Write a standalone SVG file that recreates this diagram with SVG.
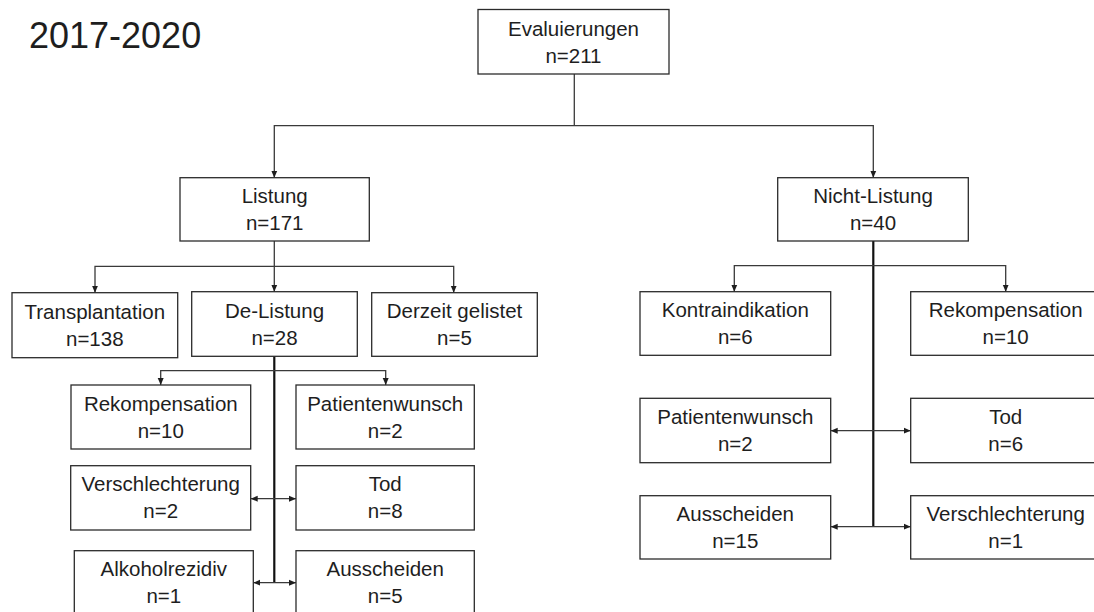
<svg xmlns="http://www.w3.org/2000/svg" width="1094" height="612" viewBox="0 0 1094 612">
  <style>
    .box { fill: #ffffff; stroke: #2b2b2b; stroke-width: 1.3; }
    .lbl { font-family: "Liberation Sans", Arial, sans-serif; font-size: 20.5px; fill: #1e1e1e; text-anchor: middle; }
    .title { font-family: "Liberation Sans", Arial, sans-serif; font-size: 36px; fill: #1e1e1e; }
    .con { fill: none; stroke: #3a3a3a; stroke-width: 1.3; }
    .thick { fill: none; stroke: #111111; stroke-width: 2.2; }
  </style>
  <defs>
    <marker id="arr" markerWidth="8" markerHeight="8" refX="7" refY="4" orient="auto-start-reverse" markerUnits="userSpaceOnUse">
      <path d="M0,1 L7,4 L0,7 Z" fill="#1e1e1e"/>
    </marker>
  </defs>
  <rect width="1094" height="612" fill="#ffffff"/>

  <text class="title" x="29" y="48">2017-2020</text>

  <g id="connectors">
    <!-- Evaluierungen to Listung / Nicht-Listung -->
    <path class="con" d="M574.3,74 V125.7"/>
    <path class="con" d="M274.3,177.7 V125.7 H873.3 V177.7" marker-start="url(#arr)" marker-end="url(#arr)"/>
    <!-- Listung to children -->
    <path class="con" d="M274.3,241 V291.7" marker-end="url(#arr)"/>
    <path class="con" d="M95,292.7 V266.3 H453.7 V292.7" marker-start="url(#arr)" marker-end="url(#arr)"/>
    <!-- De-Listung -->
    <path class="thick" d="M274.3,356.3 V582.7"/>
    <path class="con" d="M160.7,385 V370.7 H385.7 V385" marker-start="url(#arr)" marker-end="url(#arr)"/>
    <path class="con" d="M250.7,498.7 H296" marker-start="url(#arr)" marker-end="url(#arr)"/>
    <path class="con" d="M253.3,582.7 H296" marker-start="url(#arr)" marker-end="url(#arr)"/>
    <!-- Nicht-Listung -->
    <path class="thick" d="M873.3,241 V526.7"/>
    <path class="con" d="M734.3,291.7 V265.7 H1005.7 V291.7" marker-start="url(#arr)" marker-end="url(#arr)"/>
    <path class="con" d="M830.7,430.7 H910.7" marker-start="url(#arr)" marker-end="url(#arr)"/>
    <path class="con" d="M830.7,526.7 H910.7" marker-start="url(#arr)" marker-end="url(#arr)"/>
  </g>

  <g id="evaluierungen">
    <rect class="box" x="478" y="9.5" width="191" height="64.5"/>
    <text class="lbl" x="573.5" y="35.5">Evaluierungen</text>
    <text class="lbl" x="573.5" y="62.5">n=211</text>
  </g>
  <g id="listung">
    <rect class="box" x="180" y="177.7" width="189.3" height="63.3"/>
    <text class="lbl" x="274.7" y="202.8">Listung</text>
    <text class="lbl" x="274.7" y="229.8">n=171</text>
  </g>
  <g id="nicht-listung">
    <rect class="box" x="777.7" y="177.7" width="190.6" height="63.3"/>
    <text class="lbl" x="873" y="202.8">Nicht-Listung</text>
    <text class="lbl" x="873" y="229.8">n=40</text>
  </g>
  <g id="transplantation">
    <rect class="box" x="12" y="292.7" width="165.7" height="65"/>
    <text class="lbl" x="94.8" y="318.5">Transplantation</text>
    <text class="lbl" x="94.8" y="345.7">n=138</text>
  </g>
  <g id="de-listung">
    <rect class="box" x="191.7" y="291.7" width="165.6" height="64.6"/>
    <text class="lbl" x="274.5" y="317.5">De-Listung</text>
    <text class="lbl" x="274.5" y="344.5">n=28</text>
  </g>
  <g id="derzeit-gelistet">
    <rect class="box" x="371.7" y="292.7" width="165.6" height="63.6"/>
    <text class="lbl" x="454.5" y="318">Derzeit gelistet</text>
    <text class="lbl" x="454.5" y="345">n=5</text>
  </g>
  <g id="rekompensation-l">
    <rect class="box" x="71" y="385" width="179.7" height="64"/>
    <text class="lbl" x="160.8" y="410.5">Rekompensation</text>
    <text class="lbl" x="160.8" y="437.5">n=10</text>
  </g>
  <g id="patientenwunsch-l">
    <rect class="box" x="296" y="385" width="178.3" height="64"/>
    <text class="lbl" x="385.2" y="410.5">Patientenwunsch</text>
    <text class="lbl" x="385.2" y="437.5">n=2</text>
  </g>
  <g id="verschlechterung-l">
    <rect class="box" x="70.7" y="465.7" width="180" height="64.3"/>
    <text class="lbl" x="160.7" y="491.3">Verschlechterung</text>
    <text class="lbl" x="160.7" y="518.3">n=2</text>
  </g>
  <g id="tod-l">
    <rect class="box" x="296" y="465.7" width="178.3" height="64.3"/>
    <text class="lbl" x="385.2" y="491.3">Tod</text>
    <text class="lbl" x="385.2" y="518.3">n=8</text>
  </g>
  <g id="alkoholrezidiv">
    <rect class="box" x="74.3" y="550.7" width="179" height="64"/>
    <text class="lbl" x="163.8" y="575.5">Alkoholrezidiv</text>
    <text class="lbl" x="163.8" y="602.7">n=1</text>
  </g>
  <g id="ausscheiden-l">
    <rect class="box" x="296" y="550.7" width="178.3" height="64"/>
    <text class="lbl" x="385.2" y="575.5">Ausscheiden</text>
    <text class="lbl" x="385.2" y="602.7">n=5</text>
  </g>
  <g id="kontraindikation">
    <rect class="box" x="640" y="291.7" width="190.7" height="63.6"/>
    <text class="lbl" x="735.3" y="317">Kontraindikation</text>
    <text class="lbl" x="735.3" y="344">n=6</text>
  </g>
  <g id="rekompensation-r">
    <rect class="box" x="910.7" y="291.7" width="190" height="63.6"/>
    <text class="lbl" x="1005.7" y="317">Rekompensation</text>
    <text class="lbl" x="1005.7" y="344">n=10</text>
  </g>
  <g id="patientenwunsch-r">
    <rect class="box" x="640" y="398.3" width="190.7" height="64.4"/>
    <text class="lbl" x="735.3" y="424">Patientenwunsch</text>
    <text class="lbl" x="735.3" y="451">n=2</text>
  </g>
  <g id="tod-r">
    <rect class="box" x="910.7" y="398.3" width="190" height="64.4"/>
    <text class="lbl" x="1005.7" y="424">Tod</text>
    <text class="lbl" x="1005.7" y="451">n=6</text>
  </g>
  <g id="ausscheiden-r">
    <rect class="box" x="640" y="495.7" width="190.7" height="63.3"/>
    <text class="lbl" x="735.3" y="520.8">Ausscheiden</text>
    <text class="lbl" x="735.3" y="547.8">n=15</text>
  </g>
  <g id="verschlechterung-r">
    <rect class="box" x="910.7" y="495.7" width="190" height="63.3"/>
    <text class="lbl" x="1005.7" y="520.8">Verschlechterung</text>
    <text class="lbl" x="1005.7" y="547.8">n=1</text>
  </g>
</svg>
